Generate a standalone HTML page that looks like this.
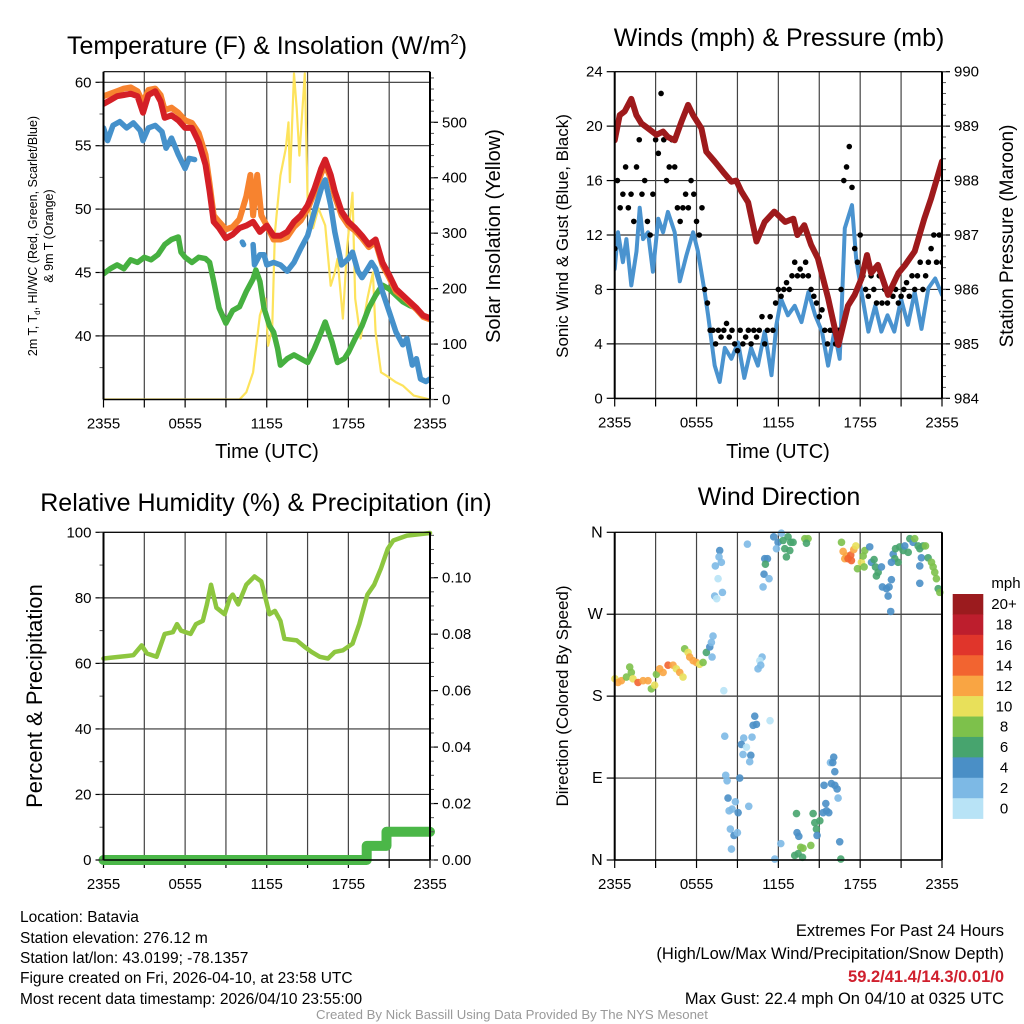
<!DOCTYPE html>
<html><head><meta charset="utf-8"><title>Batavia Meteogram</title>
<style>
html,body{margin:0;padding:0;background:#fff;}
svg{display:block;font-family:"Liberation Sans",Arial,sans-serif;}
</style></head>
<body>
<svg id="root" width="1024" height="1024" viewBox="0 0 1024 1024" xmlns="http://www.w3.org/2000/svg">
<rect x="0" y="0" width="1024" height="1024" fill="#fff"/>
<g id="g1"></g>
<g id="g2"></g>
<g id="g3"></g>
<g id="g4"></g>

<text x="267" y="54" font-size="25" text-anchor="middle">Temperature (F) &amp; Insolation (W/m<tspan font-size="15" dy="-10">2</tspan><tspan dy="10">)</tspan></text>
<text x="779" y="46" font-size="25" text-anchor="middle">Winds (mph) &amp; Pressure (mb)</text>
<text x="266" y="511" font-size="25" text-anchor="middle">Relative Humidity (%) &amp; Precipitation (in)</text>
<text x="779" y="505" font-size="25" text-anchor="middle">Wind Direction</text>

<text transform="translate(37,236) rotate(-90)" font-size="12.5" text-anchor="middle">2m T, T<tspan font-size="8" dy="3">d</tspan><tspan dy="-3">, HI/WC (Red, Green, Scarlet/Blue)</tspan></text>
<text transform="translate(53,236) rotate(-90)" font-size="12.5" text-anchor="middle">&amp; 9m T (Orange)</text>
<text transform="translate(500,236) rotate(-90)" font-size="20" text-anchor="middle">Solar Insolation (Yellow)</text>
<text transform="translate(568,236) rotate(-90)" font-size="17" text-anchor="middle">Sonic Wind &amp; Gust (Blue, Black)</text>
<text transform="translate(1013,236) rotate(-90)" font-size="19" text-anchor="middle">Station Pressure (Maroon)</text>
<text transform="translate(42,696) rotate(-90)" font-size="22" text-anchor="middle">Percent &amp; Precipitation</text>
<text transform="translate(568,696) rotate(-90)" font-size="17" text-anchor="middle">Direction (Colored By Speed)</text>
<text x="267" y="458" font-size="20" text-anchor="middle">Time (UTC)</text>
<text x="778" y="458" font-size="20" text-anchor="middle">Time (UTC)</text>

<g font-size="15.5">
<text x="20" y="922">Location: Batavia</text>
<text x="20" y="943">Station elevation: 276.12 m</text>
<text x="20" y="963">Station lat/lon: 43.0199; -78.1357</text>
<text x="20" y="983">Figure created on Fri, 2026-04-10, at 23:58 UTC</text>
<text x="20" y="1004">Most recent data timestamp: 2026/04/10 23:55:00</text>
</g>
<g font-size="16.5" text-anchor="end">
<text x="1004" y="936">Extremes For Past 24 Hours</text>
<text x="1004" y="959">(High/Low/Max Wind/Precipitation/Snow Depth)</text>
<text x="1004" y="982" font-weight="bold" fill="#d0202e">59.2/41.4/14.3/0.01/0</text>
<text x="1004" y="1004">Max Gust: 22.4 mph On 04/10 at 0325 UTC</text>
</g>
<text x="512" y="1019" font-size="13.2" fill="#999" text-anchor="middle">Created By Nick Bassill Using Data Provided By The NYS Mesonet</text>
</svg>

<script>
// ---------- Panel 1 data ----------
const redT = [0,0.5,1,1.5,2,2.5,2.9,3.3,3.8,4.2,4.5,5,5.5,6,6.5,7,7.5,7.8,8.1,8.5,9,9.5,10,10.5,11,11.5,12,12.5,13,13.5,14,14.5,15,15.5,16,16.3,16.7,17,17.5,18,18.5,19,19.5,20,20.5,21,21.5,22,22.5,23,23.5,24];
const redV = [58.3,58.6,58.9,59.0,59.1,58.9,57.6,59.0,59.3,58.5,57.2,57.4,57.0,56.4,56.4,55.3,53.5,51.4,49.0,48.5,47.7,48.0,48.5,48.7,49.0,48.2,48.7,47.9,47.9,48.2,49.0,49.5,50.3,51.6,53.2,53.9,52.7,51.4,49.8,49.0,48.5,47.9,47.2,47.6,45.8,44.8,43.7,43.2,42.7,42.2,41.6,41.4];
const orangeT = [0,0.5,1,1.5,2,2.5,2.9,3.3,3.8,4.2,4.5,5,5.5,6,6.5,7,7.5,7.8,8.1,8.5,9,9.5,10,10.5,10.8,11,11.3,11.6,12,12.5,13,13.5,14,14.5,15,15.5,16,16.3,16.7,17,17.5,18,18.5,19,19.5,20,20.5,21,21.5,22,22.5,23,23.5,24];
const orangeV = [58.9,59.1,59.3,59.5,59.6,59.3,58.4,59.4,59.5,59.0,57.8,58.0,57.6,57.0,56.8,56.0,54.3,52.0,49.5,49.0,48.4,48.6,49.2,51.0,52.7,49.5,52.7,49.5,48.7,47.6,47.6,47.8,48.6,49.1,50.0,51.3,52.8,53.5,52.4,51.0,49.5,48.7,48.3,47.7,47.0,47.4,45.6,44.6,43.5,43.1,42.6,42.1,41.5,41.3];
const blueT = [0,0.3,0.7,1.2,1.7,2.2,2.7,2.9,3.3,3.8,4.3,4.6,5,5.5,6,6.3,6.7,null,10.2,10.3,null,11.0,11.1,11.5,11.8,12,12.5,13,13.5,14,14.5,15,15.5,16,16.3,16.7,17,17.5,18,18.3,18.7,19,19.3,19.7,20,20.5,21,21.5,22,22.3,22.7,23,23.3,23.7,24];
const blueV = [56.4,55.4,56.6,56.9,56.4,56.8,56.2,55.4,56.4,56.6,56.1,54.8,55.6,54.3,53.2,54.0,53.9,null,47.4,47.2,null,47.2,45.6,46.4,46.4,45.6,45.8,45.6,45.1,45.8,46.9,47.9,49.8,51.6,52.3,50.3,48.2,45.6,46.1,46.6,45.1,44.6,45.1,45.8,45.3,43.5,41.9,40.3,39.3,39.8,37.7,38.2,36.6,36.4,36.6];
const greenT = [0,0.5,1,1.5,2,2.5,3,3.5,4,4.5,5,5.5,5.7,6,6.5,7,7.5,7.8,8.1,8.5,9,9.5,10,10.5,11,11.2,11.5,11.8,12.2,12.5,12.8,13,13.5,14,14.5,15,15.5,16,16.3,16.8,17.2,17.7,18,18.5,19,19.5,20,20.5,21,21.5,22,22.5,23,23.5,24];
const greenV = [44.9,45.3,45.6,45.3,46.0,45.8,46.2,46.0,46.4,47.2,47.6,47.8,46.6,46.2,45.8,46.2,46.1,45.8,44.3,42.2,41.0,42.0,42.3,43.5,44.5,45.2,44.3,42.2,40.8,40.3,39.0,37.7,38.2,38.5,38.2,37.9,39.0,40.3,41.1,39.5,37.9,38.2,38.7,39.8,40.8,42.2,43.2,44.0,43.7,43.2,42.7,42.4,42.2,41.6,41.4];
const solarT = [0,10.0,10.5,11.0,11.5,11.9,12.1,12.4,12.6,13.0,13.4,13.6,13.7,14.0,14.2,14.4,14.8,15.0,15.4,15.8,16.3,16.7,17.0,17.2,17.6,17.9,18.3,18.5,18.9,19.4,19.8,20.0,20.4,20.8,21.5,22.0,22.8,24];
const solarV = [0,0,13,49,152,182,97,128,301,404,453,500,392,588,525,440,588,362,309,345,314,205,229,254,146,272,373,182,110,182,229,121,49,43,31,25,7,0];
const tempTicks = [40,45,50,55,60];
const solarTicks = [0,100,200,300,400,500];
const timeLabels = ["2355","0555","1155","1755","2355"];

// ---------- Panel 2 data ----------
const presT = [0,0.37,0.73,1.22,1.59,1.96,2.44,3.06,3.55,3.9,4.4,4.89,5.38,5.75,6.36,6.72,7.33,7.95,8.56,8.92,9.29,9.78,10.4,11.0,11.7,12.5,13.1,13.4,13.9,14.4,14.9,15.65,16.4,17.1,17.6,18.1,18.5,18.8,19.3,20.05,20.8,21.3,22.0,22.7,23.2,24];
const presV = [988.74,989.2,989.27,989.5,989.2,989.05,988.96,988.84,988.9,988.8,988.74,989.08,989.39,989.2,988.96,988.53,988.35,988.16,987.98,988.0,987.8,987.6,986.88,987.24,987.43,987.24,987.3,987.0,987.18,986.82,986.57,985.84,984.98,985.7,985.9,986.2,986.63,986.3,986.45,985.9,986.3,986.45,986.7,987.3,987.67,988.35];
const windT = [0,0.24,0.6,0.86,1.22,1.6,1.83,2.08,2.44,2.8,3.2,3.55,3.9,4.4,4.77,5.26,5.75,6.1,6.6,6.85,7.33,7.7,8.07,8.56,9.05,9.5,10.0,10.5,11.0,11.5,11.86,12.2,12.7,13.2,13.7,14.2,14.7,15.2,15.65,16.1,16.5,16.87,17.4,17.7,18.1,18.6,19.1,19.56,20.0,20.5,21.0,21.5,22.0,22.5,23.0,23.5,24];
const windV = [9.5,12.2,10,11.7,8.3,10.8,14,11.7,12.2,9.3,13.2,12.2,13.7,12.2,8.6,10.5,12.2,10.8,7.8,6.1,2.4,1.2,3.7,2.9,4.1,1.5,3.7,2.4,4.9,1.7,5.4,7.3,6.1,6.8,5.6,7.8,6.1,4.9,2.4,4.9,2.9,12.5,14.2,10.3,7.8,4.9,6.8,4.9,6.1,4.9,7.3,5.4,7.8,5.1,8.1,8.8,7.6];
const gustV = [11,16,14,15,17,14,15,13,17,19,15,16,13,12,15,19,18,22.4,19,16,17,19,17,14,13,14,15,14,16,15,13,12,14,8,7,5,5,4,5,4.5,5,5.5,4.5,5,4,3.5,5,4,4.5,5,4,5,4.5,5,6,4,5,6,5,7,8,7.5,8,8.5,8,9,10,9,9.5,9,10,9,8,7.5,7,6,6.5,5,4,5,5,4,5,8,16,17,18.5,15.5,11,10,12,9,8,7.5,9,8,7,9,7,8,7,8,7.5,8,7,7.5,8,8.5,7.5,9,8,9,10,8,9,10,11,12,10,12,10];
const gustStep = 0.2;
const windTicks = [0,4,8,12,16,20,24];
const presTicks = [984,985,986,987,988,989,990];

// ---------- Panel 3 data ----------
const rhT = [0,1.2,2.2,2.8,3.2,3.9,4.5,5.1,5.4,5.7,6.4,6.8,7.3,7.6,7.9,8.3,8.9,9.3,9.5,9.9,10.3,10.5,11.1,11.6,11.9,12.2,12.6,13,13.3,14.2,14.8,15.3,15.9,16.5,17,17.6,18.3,18.8,19.4,19.9,20.4,20.9,21.3,22.3,24];
const rhV = [61.5,62,62.5,65.5,63,62,69,69.5,72,70,69,72,73,78,84,77,75,80,81,78,82,84,86.5,85,80,75,76,73,67.5,67,65,63.5,62,61.5,63.5,64,66,72,81,84,89,95,97.5,99,99.8];
const precipT = [0,19.35,19.35,20.8,20.8,24];
const precipV = [0,0,0.005,0.005,0.01,0.01];
const rhTicks = [0,20,40,60,80,100];
const precipTicks = [0,0.02,0.04,0.06,0.08,0.10];

// ---------- Panel 4 data ----------
const dirT = [0.02,0.24,0.49,0.86,1.10,1.22,1.34,1.71,2.08,2.44,2.69,2.93,3.06,3.30,3.55,3.91,4.28,4.52,4.77,5.01,5.13,5.38,5.50,5.75,5.99,6.23,6.48,6.72,6.97,7.09,7.21,7.14,8.00,
7.70,7.65,7.82,7.38,7.58,7.90,7.33,7.48,
9.73,11.0,11.2,11.05,10.95,11.32,10.88,11.66,12.22,11.98,11.86,12.35,12.71,12.91,12.84,12.59,13.08,13.94,14.18,14.06,12.47,
10.81,10.64,10.71,10.51,11.39,10.27,10.39,10.15,10.07,9.46,9.29,9.66,9.41,9.98,9.90,8.07,8.14,8.24,9.17,8.31,8.85,8.61,8.39,9.05,9.83,8.48,8.75,9.0,8.56,12.18,11.74,
13.33,13.37,13.5,13.64,13.81,13.2,13.45,13.77,14.38,14.55,14.67,14.79,15.04,14.84,15.28,15.53,15.70,15.48,15.35,15.89,16.14,16.31,16.38,16.14,15.82,15.99,16.06,16.5,16.58,
16.63,16.75,16.99,16.87,17.11,17.31,17.36,17.53,17.68,18.09,18.22,18.34,17.8,18.29,18.70,18.83,19.02,19.12,19.32,19.19,19.56,19.63,19.93,20.05,20.12,20.29,20.24,20.42,20.54,20.78,20.59,20.90,21.15,21.27,21.52,21.64,21.88,22.0,22.25,22.37,22.62,22.79,22.49,22.37,22.37,22.98,23.23,23.35,23.47,23.59,23.72,23.84,20.29];
const dirV = [199,195,197,201,212,206,199,195,197,197,188,192,204,210,206,214,214,210,206,201,232,228,223,219,217,215,217,228,234,239,246,223,186,
340,333,327,323,309,294,290,287,
347,331,331,325,314,309,300,355,359,349,342,351,355,349,340,333,349,353,353,348,342,
223,219,214,210,153,158,149,148,135,134,127,124,116,115,108,136,93,87,90,68,64,56,54,52,59,34,27,30,12,18,1,
51,30,26,14,13,5,7,3,16,51,41,34,43,27,52,54,52,62,82,84,82,78,68,97,107,107,113,20,1,
349,339,334,331,331,335,329,341,345,327,334,340,320,322,344,327,330,322,316,312,322,300,298,290,300,308,273,336,331,327,342,344,340,345,338,353,349,353,345,342,345,345,332,323,304,332,327,322,316,309,298,294,327];
const dirS = [11,13,13,9,9,9,11,15,13,13,9,11,9,13,13,15,13,11,13,11,9,11,13,13,13,11,9,7,5,3,3,3,1,
5,3,3,3,1,3,3,1,
3,5,5,7,5,3,3,5,3,5,3,7,7,7,7,7,7,9,9,7,7,
3,1,3,3,1,5,5,5,3,3,5,1,3,5,3,3,3,3,5,5,3,3,3,5,3,3,5,3,3,3,3,
7,5,5,9,9,7,7,7,9,7,7,7,7,5,5,5,5,5,5,5,5,5,3,5,3,5,5,5,7,
9,13,13,13,15,15,15,13,11,11,9,9,9,9,5,5,7,7,7,7,5,5,5,5,5,5,5,5,7,7,7,7,7,5,7,7,5,9,7,7,7,9,5,5,5,7,9,9,9,9,7,9,5];
const dirTicks = [0,90,180,270,360];
const dirLabels = ["N","E","S","W","N"];
const speedLabels = ["0","2","4","6","8","10","12","14","16","18","20+"];
const speedColors = ["#b8e3f6","#7db9e5","#4a8fc6","#47a46e","#7dc14b","#e8e05a","#f9a543","#f26430","#e0352b","#bd1e2d","#9b1b1e"];

// ---------- helpers ----------
const NS = "http://www.w3.org/2000/svg";
function el(tag, attrs, parent){
  const e = document.createElementNS(NS, tag);
  for (const k in attrs) e.setAttribute(k, attrs[k]);
  parent.appendChild(e);
  return e;
}
function lin(d0,d1,r0,r1){ return v => r0 + (v-d0)/(d1-d0)*(r1-r0); }

function frame(g, L, R, T, B, sx){
  for (let h=3; h<24; h+=3){
    const gl = el('line',{x1:sx(h),x2:sx(h),y1:T,y2:B,stroke:'#444','stroke-width':1.2},g);
    
    
  }
  for (let h=0; h<=24; h+=3){
    const t = el('line',{x1:sx(h),x2:sx(h),y1:B,y2:B+8,stroke:'#000','stroke-width':1.2},g);
    
    
  }
  for (let i=0;i<timeLabels.length;i++){
    const tx = el('text',{x:sx(i*6),y:B+29,'font-size':15,'text-anchor':'middle'},g);
    tx.textContent = timeLabels[i];
    
    
  }
}
function hgrid(g, L, R, ticks, sy){
  ticks.forEach(v=>{
    const l = el('line',{x1:L,x2:R,y1:sy(v),y2:sy(v),stroke:'#333','stroke-width':1.2},g);
    
    
  });
}
function yAxis(g, x, side, ticks, sy, labels, minorStep, lo, hi, fs){
  const dir = side==='left' ? -1 : 1;
  ticks.forEach((v,i)=>{
    const t = el('line',{x1:x,x2:x+dir*8,y1:sy(v),y2:sy(v),stroke:'#000','stroke-width':1.2},g);
    
    
    const tx = el('text',{x:x+dir*12,y:sy(v)+5,'font-size':fs||15,'text-anchor':side==='left'?'end':'start'},g);
    tx.textContent = labels[i];
    
    
  });
  if (minorStep){
    for (let v=lo; v<=hi+1e-9; v+=minorStep){
      const m = el('line',{x1:x,x2:x+dir*4,y1:sy(v),y2:sy(v),stroke:'#555','stroke-width':1},g);
      
      
    }
  }
}
function border(g,L,R,T,B){
  const a = el('line',{x1:L,x2:L,y1:T,y2:B,stroke:'#000','stroke-width':2},g);
  
  
  const b = el('line',{x1:R,x2:R,y1:T,y2:B,stroke:'#000','stroke-width':2},g);
  
  
  const c = el('line',{x1:L,x2:R,y1:B,y2:B,stroke:'#000','stroke-width':1.5},g);
  
  
  const d = el('line',{x1:L,x2:R,y1:T,y2:T,stroke:'#000','stroke-width':1.2},g);
  
  
}
function pathFrom(ts, vs, sx, sy){
  let d='', pen=false;
  for (let i=0;i<ts.length;i++){
    if (ts[i]===null || vs[i]===null){ pen=false; continue; }
    d += (pen?'L':'M') + sx(ts[i]).toFixed(1) + ',' + sy(vs[i]).toFixed(1);
    pen=true;
  }
  return d;
}
function series(g, ts, vs, sx, sy, color, w, name){
  const p = el('path',{d:pathFrom(ts,vs,sx,sy),fill:'none',stroke:color,'stroke-width':w,'stroke-linejoin':'round','stroke-linecap':'round'},g);
  
  
  return p;
}

// ---------- Panel 1 ----------
(function(){
  const g = document.getElementById('g1');
  const L=103.5,R=430,T=71.7,B=399.5;
  const sx = lin(0,24,L,R), sy = lin(35,60,399.3,82.3), sy2 = lin(0,500,399.5,122.3);
  const clip = el('clipPath',{id:'c1'},g); el('rect',{x:L,y:T,width:R-L,height:B-T},clip);
  hgrid(g,L,R,tempTicks,sy);
  frame(g,L,R,T,B,sx);
  const d = el('g',{'clip-path':'url(#c1)'},g);
  
  
  series(d,solarT,solarV,sx,sy2,'#fde35c',2.2,'solar-insolation-line');
  series(d,greenT,greenV,sx,sy,'#46b040',5.5,'dewpoint-line');
  series(d,orangeT,orangeV,sx,sy,'#f7832f',6,'temp-9m-line');
  series(d,blueT,blueV,sx,sy,'#4591cb',5.5,'heat-index-windchill-line');
  series(d,redT,redV,sx,sy,'#d41f26',6,'temp-2m-line');
  yAxis(g,L,'left',tempTicks,sy,tempTicks.map(String),2.5,37.5,60);
  yAxis(g,R,'right',solarTicks,sy2,solarTicks.map(String),20,0,580);
  border(g,L,R,T,B);
})();

// ---------- Panel 2 ----------
(function(){
  const g = document.getElementById('g2');
  const L=614.7,R=942,T=71.7,B=398.5;
  const sx = lin(0,24,L,R), sy = lin(0,24,398.3,71.7), sy2 = lin(984,990,398.3,71.7);
  const clip = el('clipPath',{id:'c2'},g); el('rect',{x:L,y:T-4,width:R-L,height:B-T+4},clip);
  hgrid(g,L,R,windTicks,sy);
  frame(g,L,R,T,B,sx);
  const d = el('g',{'clip-path':'url(#c2)'},g);
  
  
  series(d,windT,windV,sx,sy,'#4a93cf',4,'sonic-wind-line');
  gustV.forEach((v,i)=>{
    const c = el('circle',{cx:sx(i*gustStep),cy:sy(v),r:2.8,fill:'#000'},d);
    
    
  });
  series(d,presT,presV,sx,sy2,'#9e1a1c',6,'pressure-line');
  yAxis(g,L,'left',windTicks,sy,windTicks.map(String),null);
  yAxis(g,R,'right',presTicks,sy2,presTicks.map(String),0.2,984,990);
  border(g,L,R,T,B);
})();

// ---------- Panel 3 ----------
(function(){
  const g = document.getElementById('g3');
  const L=103.5,R=430,T=532.3,B=860;
  const sx = lin(0,24,L,R), sy = lin(0,100,860,532.3), sy2 = lin(0,0.10,860,577.7);
  hgrid(g,L,R,rhTicks,sy);
  frame(g,L,R,T,B,sx);
  series(g,rhT,rhV,sx,sy,'#8dc63f',4.5,'relative-humidity-line');
  series(g,precipT,precipV,sx,sy2,'#4bb748',10,'precipitation-line');
  yAxis(g,L,'left',rhTicks,sy,rhTicks.map(String),10,0,100);
  yAxis(g,R,'right',precipTicks,sy2,precipTicks.map(v=>v.toFixed(2)),0.005,0,0.115);
  border(g,L,R,T,B);
})();

// ---------- Panel 4 ----------
(function(){
  const g = document.getElementById('g4');
  const L=614.7,R=942,T=532.3,B=860;
  const sx = lin(0,24,L,R), sy = lin(0,360,860,532.3);
  hgrid(g,L,R,dirTicks,sy);
  frame(g,L,R,T,B,sx);
  const d = el('g',{},g);
  
  
  dirT.forEach((t,i)=>{
    const ci = Math.min(10, Math.floor(dirS[i]/2));
    const c = el('circle',{cx:sx(t),cy:sy(dirV[i]),r:3.8,fill:speedColors[ci],'fill-opacity':0.9},d);
    
    
  });
  yAxis(g,L,'left',dirTicks,sy,dirLabels,null,0,0,16);
  border(g,L,R,T,B);
  const cb = el('g',{},g);
  
  
  const top=594, h=20.42;
  for (let i=0;i<11;i++){
    const k = 10-i;
    const r = el('rect',{x:952.7,y:top+i*h,width:30.6,height:h+0.3,fill:speedColors[k]},cb);
    
    
    const tx = el('text',{x:1004,y:top+i*h+h/2+5,'font-size':15,'text-anchor':'middle'},cb);
    tx.textContent = speedLabels[k];
    
    
  }
  const u = el('text',{x:1006,y:588,'font-size':15,'text-anchor':'middle'},cb);
  u.textContent = 'mph';
  
  
})();
</script>
</body></html>
